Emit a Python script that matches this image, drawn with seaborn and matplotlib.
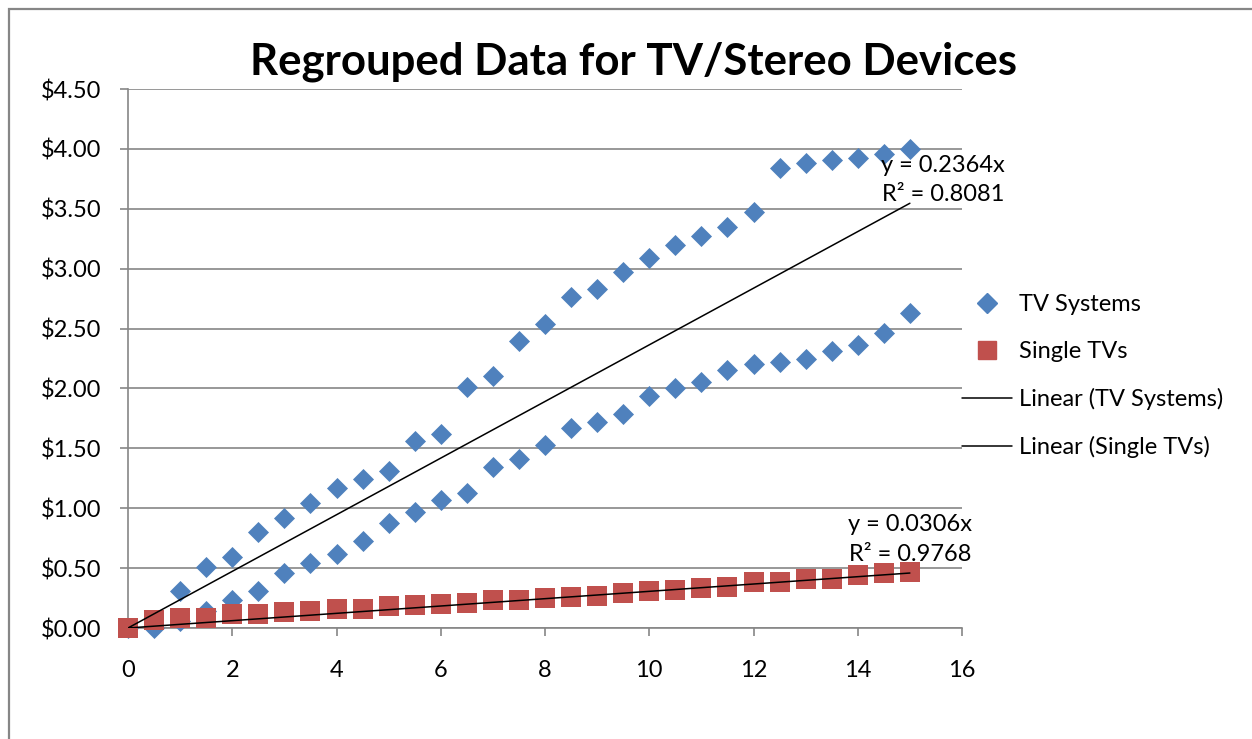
import numpy as np
import pandas as pd
import matplotlib
matplotlib.use("Agg")
import matplotlib.pyplot as plt
from matplotlib.lines import Line2D
from matplotlib.patches import Rectangle
import seaborn as sns

# values
tv_upper_x = np.arange(1.0, 15.01, 0.5)
tv_upper = [0.31, 0.51, 0.59, 0.80, 0.92, 1.04, 1.17, 1.24, 1.31, 1.56,
            1.62, 2.01, 2.10, 2.40, 2.54, 2.76, 2.83, 2.97, 3.09, 3.20,
            3.27, 3.35, 3.47, 3.84, 3.88, 3.91, 3.92, 3.96, 4.00]
tv_lower_x = np.arange(0.0, 15.01, 0.5)
tv_lower = [0.00, 0.00, 0.06, 0.14, 0.23, 0.31, 0.46, 0.54, 0.62, 0.73,
            0.88, 0.97, 1.07, 1.13, 1.34, 1.41, 1.53, 1.67, 1.72, 1.79,
            1.94, 2.00, 2.05, 2.15, 2.20, 2.22, 2.25, 2.31, 2.36, 2.46, 2.63]
single_x = np.arange(0.0, 15.01, 0.5)
single = [0.00, 0.07, 0.08, 0.08, 0.12, 0.12, 0.13, 0.14, 0.16, 0.16,
          0.18, 0.19, 0.20, 0.21, 0.23, 0.23, 0.25, 0.26, 0.27, 0.29,
          0.31, 0.32, 0.33, 0.34, 0.38, 0.38, 0.41, 0.41, 0.44, 0.46, 0.47]

tv_slope, tv_r2 = 0.2364, 0.8081
single_slope, single_r2 = 0.0306, 0.9768

x_ticks = [0, 2, 4, 6, 8, 10, 12, 14, 16]
y_ticks = [0, 0.5, 1.0, 1.5, 2.0, 2.5, 3.0, 3.5, 4.0, 4.5]

blue = "#4F81BD"
red = "#C0504D"
grey = "#868686"

tv = pd.DataFrame({"x": np.concatenate([tv_upper_x, tv_lower_x]),
                   "y": tv_upper + tv_lower})
st = pd.DataFrame({"x": single_x, "y": single})

sns.set_style("white")
plt.rcParams["font.family"] = ["Lato", "DejaVu Sans"]
plt.rcParams["text.color"] = "black"
plt.rcParams["xtick.labelcolor"] = "black"
plt.rcParams["ytick.labelcolor"] = "black"

fs = 17

fig = plt.figure(figsize=(12.52, 7.39), dpi=100)
ax = fig.add_axes([128 / 1252, 1 - 628 / 739, 834 / 1252, 539 / 739])

sns.scatterplot(data=tv, x="x", y="y", marker="D", s=115, color=blue,
                linewidth=0, ax=ax, zorder=3, clip_on=False)
sns.scatterplot(data=st, x="x", y="y", marker="s", s=200, color=red,
                linewidth=0, ax=ax, zorder=4, clip_on=False)

xs = np.array([0, 15])
ax.plot(xs, tv_slope * xs, color="black", lw=1.1, zorder=5)
ax.plot(xs, single_slope * xs, color="black", lw=1.1, zorder=5)

ax.text(15.64, 3.74, f"y = {tv_slope}x\nR² = {tv_r2}", ha="center",
        va="center", fontsize=fs, linespacing=1.5, zorder=6, clip_on=False)
ax.text(15.0, 0.74, f"y = {single_slope}x\nR² = {single_r2}", ha="center",
        va="center", fontsize=fs, linespacing=1.5, zorder=6, clip_on=False)

ax.set_xlim(0, 16)
ax.set_ylim(0, 4.5)
ax.set_xticks(x_ticks)
ax.set_xticklabels([str(t) for t in x_ticks])
ax.set_yticks(y_ticks)
ax.set_yticklabels([f"${t:.2f}" for t in y_ticks])
ax.set_xlabel("")
ax.set_ylabel("")

ax.grid(axis="y", color=grey, lw=1.2, zorder=0)
ax.grid(axis="x", visible=False)
for side in ["top", "right"]:
    ax.spines[side].set_visible(False)
for side in ["left", "bottom"]:
    ax.spines[side].set_color(grey)
    ax.spines[side].set_linewidth(1.2)
ax.tick_params(axis="x", direction="out", length=6, width=1.2, color=grey,
               pad=17, labelsize=fs, bottom=True)
ax.tick_params(axis="y", direction="out", length=6, width=1.2, color=grey,
               pad=13, labelsize=fs, left=True)

fig.text(633 / 1252, 1 - 62 / 739, "Regrouped Data for TV/Stereo Devices",
         ha="center", va="center", fontsize=31.5, fontweight="bold")

handles = [
    Line2D([], [], marker="D", color=blue, lw=0, markersize=10.5),
    Line2D([], [], marker="s", color=red, lw=0, markersize=13),
    Line2D([], [], color="black", lw=1.1),
    Line2D([], [], color="black", lw=1.1),
]
labels = ["TV Systems", "Single TVs", "Linear (TV Systems)", "Linear (Single TVs)"]
fig.legend(handles, labels, loc="center left",
           bbox_to_anchor=(962 / 1252, 1 - 376 / 739), frameon=False,
           fontsize=fs, handlelength=2.12, handletextpad=0.3,
           labelspacing=1.1, borderpad=0, borderaxespad=0)

fig.patches.append(Rectangle((9 / 1252, -0.2), 1.2, 1.2 - 9 / 739,
                             transform=fig.transFigure, fill=False,
                             edgecolor=grey, lw=1.6))

fig.savefig("out.png", dpi=100)
